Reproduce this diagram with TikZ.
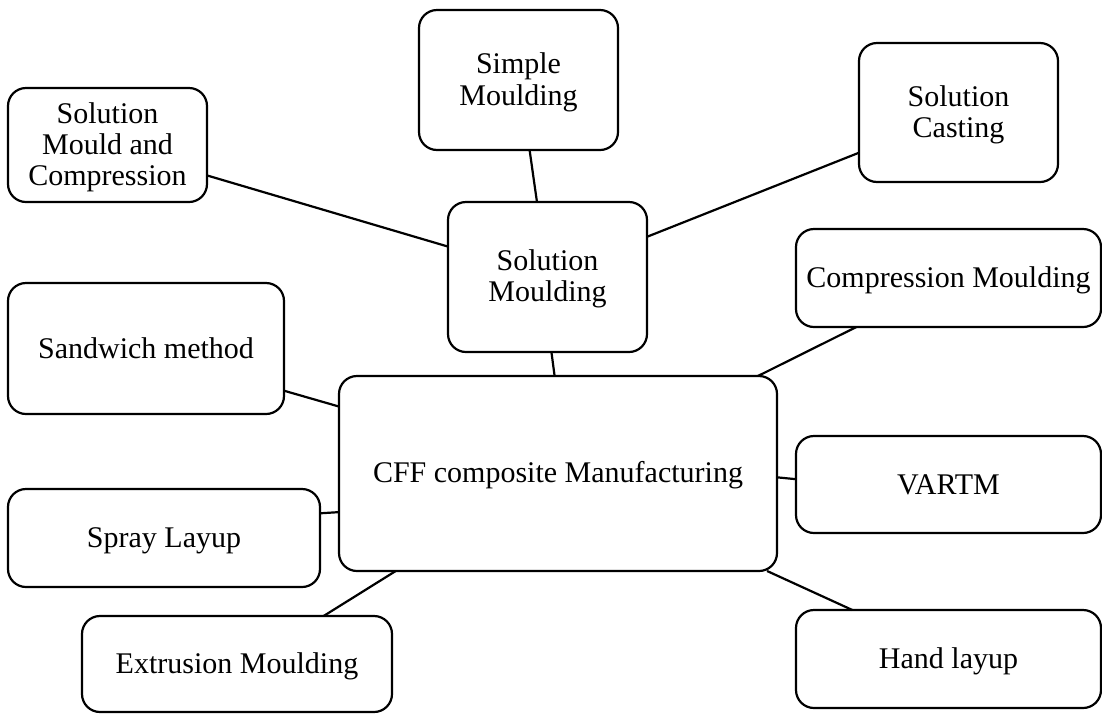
\documentclass[tikz,border=0pt]{standalone}
\usepackage{fontspec}
\setmainfont{Liberation Serif}
\newcommand{\lnstrut}{\vrule height25pt depth6pt width0pt}
\begin{document}
\begin{tikzpicture}[x=1pt,y=-1pt,
  box/.style={draw=black,line width=2.2pt,rounded corners=18pt,align=center,
    inner sep=0pt,outer sep=0pt,font=\fontsize{30}{31}\selectfont},
  link/.style={draw=black,line width=2.2pt}]
\useasboundingbox (0,0) rectangle (1102,713);
\node[box,minimum width=199pt,minimum height=114pt] (smc) at (107.5,145) {\lnstrut Solution\\\lnstrut Mould and\\\lnstrut Compression};
\node[box,minimum width=199pt,minimum height=140pt] (simple) at (518.5,80) {\lnstrut Simple\\\lnstrut Moulding};
\node[box,minimum width=199pt,minimum height=139pt] (casting) at (958.5,112.5) {\lnstrut Solution\\\lnstrut Casting};
\node[box,minimum width=199pt,minimum height=150pt] (solm) at (547.5,277) {\lnstrut Solution\\\lnstrut Moulding};
\node[box,minimum width=305pt,minimum height=98pt] (comp) at (948.5,278) {\lnstrut Compression Moulding};
\node[box,minimum width=276pt,minimum height=131pt] (sand) at (146,348.5) {\lnstrut Sandwich method};
\node[box,minimum width=438pt,minimum height=195pt] (cff) at (558,473.5) {\lnstrut CFF composite Manufacturing};
\node[box,minimum width=305pt,minimum height=97pt] (vartm) at (948.5,484.5) {\lnstrut VARTM};
\node[box,minimum width=312pt,minimum height=98pt] (spray) at (164,538) {\lnstrut Spray Layup};
\node[box,minimum width=310pt,minimum height=96pt] (extr) at (237,664) {\lnstrut Extrusion Moulding};
\node[box,minimum width=305pt,minimum height=98pt] (hand) at (948.5,659) {\lnstrut Hand layup};
\draw[link] (smc.-17) -- (solm.163);
\draw[link] (simple.-81.5) -- (solm.98);
\draw[link] (casting.-158.1) -- (solm.22.4);
\draw[link] (solm.-87.3) -- (cff.92.9);
\draw[link] (comp.-152.8) -- (cff.26.1);
\draw[link] (sand.-17.4) -- (cff.163.3);
\draw[link] (spray.9.5) -- (cff.-170.8);
\draw[link] (extr.29.7) -- (cff.-149.3);
\draw[link] (hand.153.8) -- (cff.-25.1);
\draw[link] (vartm.178.3) -- (cff.-1.7);
\end{tikzpicture}
\end{document}
